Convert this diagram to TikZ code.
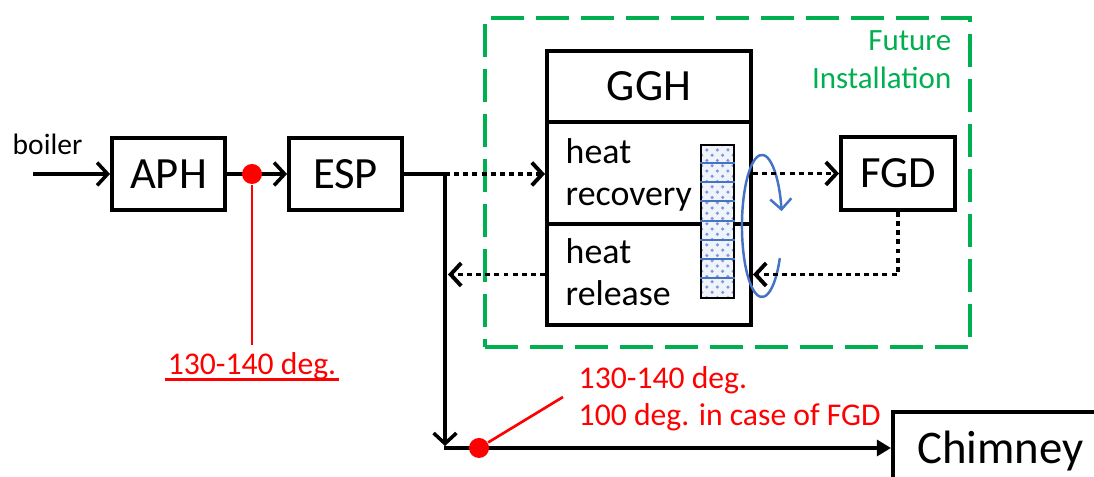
\documentclass[tikz,border=0pt]{standalone}
\usepackage{fontspec}
\setmainfont{Carlito}
\usetikzlibrary{arrows.meta,patterns,calc}
\definecolor{fgreen}{RGB}{0,176,80}
\definecolor{fblue}{RGB}{68,114,196}
\definecolor{fred}{RGB}{255,0,0}
\begin{document}
\begin{tikzpicture}[x=0.01cm,y=-0.01cm,
  blk/.style={draw, line width=1.1pt, inner sep=0, font=\fontsize{12.7}{15}\selectfont},
  barb/.style={-{Straight Barb[length=3pt,width=6.5pt]}},
  flow/.style={line width=1pt, barb},
  dots/.style={line width=1.1pt, dash pattern=on 1.4pt off 1.2pt, barb},
  reddot/.style={circle, fill=fred, inner sep=0, minimum size=0.2cm},
  redline/.style={draw=fred, line width=0.75pt},
  redtxt/.style={text=fred, inner sep=0, font=\fontsize{9}{10.5}\selectfont},
  inner/.style={inner sep=0, align=left, font=\fontsize{10.2}{12}\selectfont}
]
\useasboundingbox (0,0) rectangle (1094,477);

% future installation frame
\node[draw=fgreen, line width=1.2pt, dash pattern=on 0.33cm off 0.12cm,
      minimum width=4.85cm, minimum height=3.29cm, inner sep=0] (fut) at (727.5,182.5) {};
\node[anchor=north east, align=right, inner sep=0, text=fgreen,
      font=\fontsize{8.8}{10.8}\selectfont] (futtxt) at (952,30) {Future\\Installation};

% boxes
\node[blk, minimum width=1.13cm, minimum height=0.72cm] (aph) at (168.5,174) {APH};
\node[blk, minimum width=1.13cm, minimum height=0.72cm] (esp) at (345.5,174) {ESP};
\node[blk, minimum width=1.14cm, minimum height=0.73cm] (fgd) at (898,173.5) {FGD};
\node[blk, minimum width=2.04cm, minimum height=0.71cm] (ggh) at (649,86.5) {GGH};
\node[blk, minimum width=2.04cm, minimum height=1.02cm] (rec) at (649,173) {};
\node[blk, minimum width=2.04cm, minimum height=1.01cm] (rel) at (649,274.5) {};
\node[inner, anchor=north west] (rectxt) at (565,138) {heat\\recovery};
\node[inner, anchor=north west] (reltxt) at (565,238) {heat\\release};

% heat exchanger column
\node[draw, line width=0.5pt, minimum width=0.33cm, minimum height=1.53cm, inner sep=0,
      preaction={fill=fblue!8}, pattern=crosshatch dots, pattern color=fblue!70] (col) at (717.5,221.5) {};
\foreach \k in {1,...,7}{
  \draw[fblue, line width=0.6pt] ($(col.north west)+(0,\k*19.125)$) -- ($(col.north east)+(0,\k*19.125)$);
}

% rotation arrow
\draw[fblue, line width=0.7pt, -{Straight Barb[length=3pt,width=6pt]}]
  (779.8,258.2) arc[start angle=-27, end angle=-348, x radius=0.2cm, y radius=0.71cm];

\node[blk, anchor=west, minimum width=2.15cm, minimum height=0.78cm,
      font=\fontsize{13.3}{16}\selectfont] (chim) at (891,451) {Chimney};

% boiler
\node[anchor=base west, inner sep=0, font=\fontsize{8.4}{10}\selectfont] (boiler) at (12,155) {boiler};
\coordinate (bin) at (33,174);
\draw[flow] (bin) -- (aph.west);

% APH -> ESP with red dot
\draw[flow] (aph.east) -- (esp.west);
\node[reddot] (dot1) at (252,174) {};
\coordinate (c1) at (252,345);
\draw[redline] (dot1) -- (c1);
\node[redtxt, anchor=base] (t1) at (252,375) {130-140 deg.};
\draw[fred, line width=0.6pt] ($(t1.base west)+(-2,4.5)$) -- ($(t1.base east)+(2,4.5)$);

% ESP outlet
\coordinate (j1) at (445,174);
\coordinate (j2) at (445,448);
\draw[line width=1pt] (esp.east) -- (j1);
\draw[dots] (j1) -- (j1 -| rec.west);
\draw[flow] (j1) -- ($(j2)+(0,-2)$);
\draw[line width=1pt, -{Triangle[length=4pt,width=4.5pt]}] ($(j2)+(-1.5,0)$) -- (j2 -| chim.west);

% GGH <-> FGD
\draw[dots] (rec.east |- fgd.west) -- (fgd.west);
\coordinate (f1) at (fgd.south |- rel.east);
\draw[dots] (fgd.south) -- (f1) -- (rel.east);
\coordinate (r1) at (448,274.5);
\draw[dots] (rel.west) -- (r1);

% second red dot
\node[reddot] (dot2) at (479,448) {};
\coordinate (c2) at (563,397);
\draw[redline] (dot2) -- (c2);
\node[redtxt, anchor=north west, align=left] (t2) at (578,366) {130-140 deg.\\100 deg. in case of FGD};
\end{tikzpicture}
\end{document}
